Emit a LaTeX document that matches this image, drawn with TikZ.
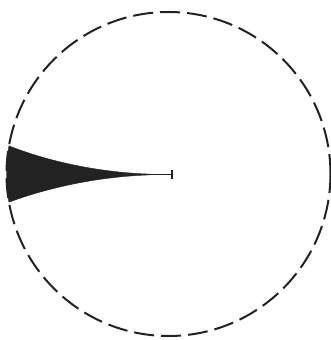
\documentclass[tikz,border=0pt]{standalone}
\definecolor{ink}{HTML}{222222}
\begin{document}
\begin{tikzpicture}[x=1pt,y=1pt,
  rim/.style={draw=ink,line width=2pt,dash pattern=on 20pt off 7pt},
  tail/.style={fill=ink,draw=ink,line width=0.4pt},
  stem/.style={draw=ink,line width=1.6pt}]
\useasboundingbox (0,0) rectangle (331,340);
\coordinate (c) at (168.5,166);
\coordinate (tip) at (172,165.5);
\draw[rim] (c) circle[radius=162pt];
\path[tail] (150,165.9) .. controls (100,167.5) and (50,178) .. (8.96,194.1)
  arc[start angle=170,end angle=190,radius=162pt]
  .. controls (50,153) and (100,163.5) .. (150,165.1) -- cycle;
\draw[stem] (135,165.5) -- (tip);
\draw[stem] ([yshift=-4.5pt]tip) -- ([yshift=4pt]tip);
\end{tikzpicture}
\end{document}
